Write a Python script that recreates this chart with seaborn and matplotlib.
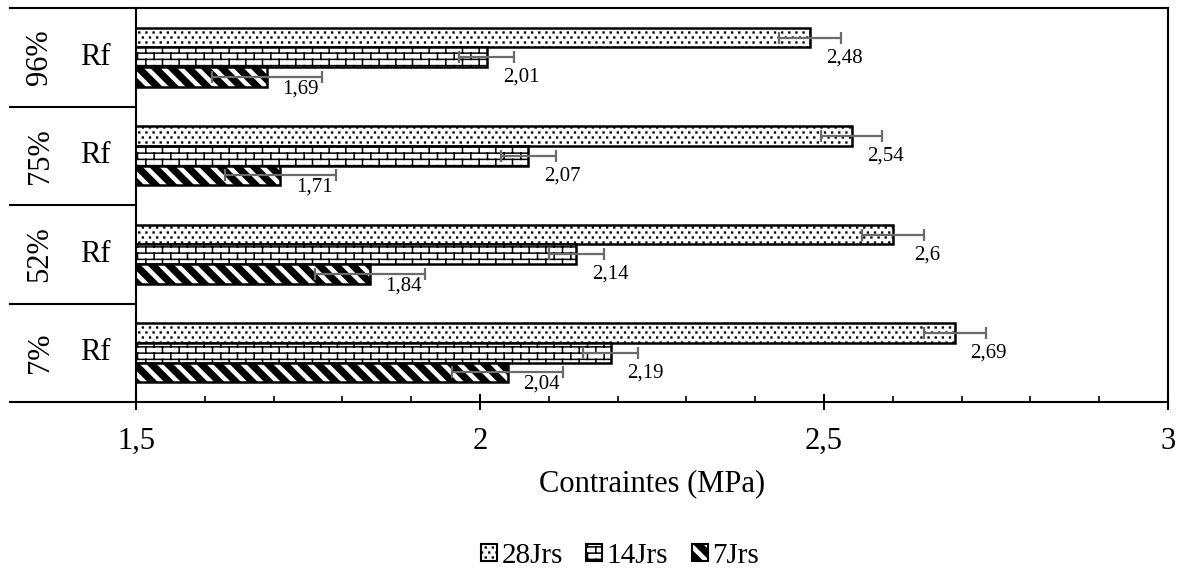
import numpy as np
import pandas as pd
import matplotlib
matplotlib.use("Agg")
import matplotlib.pyplot as plt
import matplotlib.hatch as mhatch
from matplotlib.path import Path
from matplotlib.patches import Patch
from matplotlib.lines import Line2D
from matplotlib.ticker import MultipleLocator
from matplotlib.transforms import blended_transform_factory
import seaborn as sns

# ---------------- data ----------------
groups = ["96%", "75%", "52%", "7%"]
group_tag = ["Rf", "Rf", "Rf", "Rf"]
ages = ["28Jrs", "14Jrs", "7Jrs"]
v28 = [2.48, 2.54, 2.60, 2.69]
v14 = [2.01, 2.07, 2.14, 2.19]
v7 = [1.69, 1.71, 1.84, 2.04]
e28 = [0.045, 0.045, 0.045, 0.045]
e14 = [0.04, 0.04, 0.04, 0.04]
e7 = [0.08, 0.08, 0.08, 0.08]
xticks = [1.5, 2.0, 2.5, 3.0]
xticklabels = ["1,5", "2", "2,5", "3"]
xlabel = "Contraintes (MPa)"

values = [v28, v14, v7]
errors = [e28, e14, e7]

# ---------------- custom hatches ----------------
class DotHatch(mhatch.HatchPatternBase):
    rows = 20
    cols = 14
    s = 0.004

    def __init__(self, hatch, density):
        self.on = '.' in hatch
        self.num_vertices = self.rows * (self.cols + 1) * 5 if self.on else 0

    def set_vertices_and_codes(self, vertices, codes):
        v, cd = [], []
        s = self.s
        for k in range(self.rows):
            y = (k + 0.5) / self.rows
            off = 0.5 / self.cols if k % 2 else 0.0
            for j in range(self.cols + 1):
                x = j / self.cols + off
                v += [(x - s, y - s), (x + s, y - s), (x + s, y + s),
                      (x - s, y + s), (x - s, y - s)]
                cd += [Path.MOVETO, Path.LINETO, Path.LINETO, Path.LINETO,
                       Path.CLOSEPOLY]
        vertices[:] = np.array(v)
        codes[:] = np.array(cd)


class BrickHatch(mhatch.HatchPatternBase):
    rows = 16
    cols = 6

    def __init__(self, hatch, density):
        self.on = '+' in hatch
        r, c = self.rows, self.cols
        self.num_vertices = (r * 2 + (r + 1) * c * 2) if self.on else 0

    def set_vertices_and_codes(self, vertices, codes):
        r, c = self.rows, self.cols
        v = []
        for k in range(r):
            y = (k + 0.5) / r
            v += [(0.0, y), (1.0, y)]
        for k in range(-1, r):
            y0, y1 = (k + 0.5) / r, (k + 1.5) / r
            off = 0.75 / c if k % 2 else 0.25 / c
            for j in range(c):
                x = j / c + off
                v += [(x, y0), (x, y1)]
        vertices[:] = np.array(v)
        codes[0::2] = Path.MOVETO
        codes[1::2] = Path.LINETO


class StripeHatch(mhatch.HatchPatternBase):
    n = 6
    w = 0.08

    def __init__(self, hatch, density):
        self.on = 'X' in hatch
        self.ks = list(range(-1, 2 * self.n + 2))
        self.num_vertices = len(self.ks) * 5 if self.on else 0

    def set_vertices_and_codes(self, vertices, codes):
        v, cd = [], []
        w = self.w
        for k in self.ks:
            c = k / self.n
            v += [(c + 0.1, -0.1), (c + 0.1 + w, -0.1),
                  (c - 1.1 + w, 1.1), (c - 1.1, 1.1), (c + 0.1, -0.1)]
            cd += [Path.MOVETO, Path.LINETO, Path.LINETO, Path.LINETO, Path.CLOSEPOLY]
        vertices[:] = np.array(v)
        codes[:] = np.array(cd)


mhatch._hatch_types = [DotHatch, BrickHatch, StripeHatch]
hatches = [".", "+", "X"]

# ---------------- style ----------------
plt.rcParams["font.family"] = ["Liberation Serif", "DejaVu Serif"]
plt.rcParams["hatch.linewidth"] = 1.1
plt.rcParams["hatch.color"] = "black"
plt.rcParams["axes.linewidth"] = 1.5

df = pd.DataFrame({
    "groupe": groups * 3,
    "age": [a for a in ages for _ in groups],
    "val": v28 + v14 + v7,
})

fig = plt.figure(figsize=(11.84, 5.71), dpi=100)
W, H = 1184, 571
ax = fig.add_axes([136 / W, 1 - 402 / H, (1168 - 136) / W, (402 - 8) / H])

sns.barplot(data=df, y="groupe", x="val", hue="age", order=groups,
            hue_order=ages, orient="h", width=0.6, errorbar=None,
            palette={a: "white" for a in ages}, saturation=1,
            edgecolor="black", linewidth=1.8, legend=False, ax=ax)

bar_conts = list(ax.containers)
label_dx = [3, 7, -21]
label_dy = [20, 20, 12]
for i, cont in enumerate(bar_conts):
    ys = []
    for p in cont.patches:
        p.set_hatch(hatches[i])
        ys.append(p.get_y() + p.get_height() / 2)
    ax.errorbar(values[i], ys, xerr=errors[i], fmt="none", ecolor="#6b6b6b",
                elinewidth=1.6, capsize=4, capthick=1.6, zorder=5)
    for v, e, yc in zip(values[i], errors[i], ys):
        ax.annotate(f"{v:g}".replace(".", ","), xy=(v + e, yc),
                    xytext=(label_dx[i], -label_dy[i]), textcoords="offset pixels",
                    ha="center", va="center", fontsize=15, zorder=6)

ax.set_xlim(1.5, 3.0)
ax.set_ylim(3.5, -0.5)
ax.set_xticks(xticks)
ax.set_xticklabels(xticklabels)
ax.xaxis.set_minor_locator(MultipleLocator(0.1))
ax.tick_params(axis="x", which="major", direction="inout", length=12, width=1.5,
               labelsize=22, pad=12, color="black")
ax.tick_params(axis="x", which="minor", direction="in", length=4, width=1.2)
ax.set_yticks([])
ax.set_ylabel("")
ax.set_xlabel(xlabel, fontsize=22, labelpad=9.5)
for s in ax.spines.values():
    s.set_linewidth(1.5)

# left table
bt = blended_transform_factory(fig.transFigure, ax.transData)
for j, (g, t) in enumerate(zip(groups, group_tag)):
    ax.text(40 / W, j, g, transform=bt, rotation=90, ha="center", va="center",
            fontsize=22)
    ax.text(95 / W, j, t, transform=bt, ha="center", va="center", fontsize=22)
for yb in np.arange(-0.5, len(groups), 1.0):
    fig.add_artist(Line2D([10 / W, 136 / W], [yb, yb], transform=bt,
                          color="black", lw=1.5, clip_on=False))

handles = [Patch(facecolor="white", edgecolor="black", hatch=h, linewidth=1.5)
           for h in hatches]
fig.legend(handles, ages, loc="center", bbox_to_anchor=(620 / W, 1 - 556 / H),
           ncol=3, frameon=False, fontsize=21, handlelength=0.55,
           handleheight=0.55, handletextpad=0.15, columnspacing=0.8)

fig.savefig("out.png", dpi=100)
